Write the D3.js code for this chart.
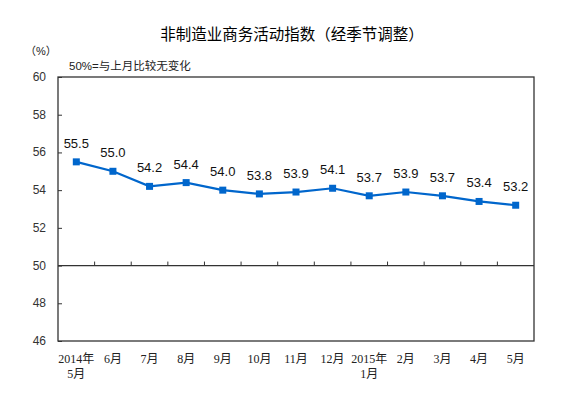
<!DOCTYPE html>
<html><head>
<meta charset="utf-8">
<script src="https://d3js.org/d3.v7.min.js"></script>
<style>
  body { margin: 0; background: #fff; }
  .val { font-family: Arial, "Liberation Sans", sans-serif; font-size: 13px; fill: #111; }
  .ylab { font-family: Arial, "Liberation Sans", sans-serif; font-size: 12px; fill: #333; }
  .xlab { font-family: "Liberation Serif", "Noto Sans CJK SC", serif; font-size: 12px; fill: #222; }
  .cjk { font-family: "Liberation Sans", "Noto Sans CJK SC", sans-serif; fill: #222; }
</style>
</head>
<body>
<svg id="chart" width="587" height="396"></svg>
<script>
// data
var months = ["2014年\n5月", "6月", "7月", "8月", "9月", "10月", "11月", "12月", "2015年\n1月", "2月", "3月", "4月", "5月"];
var values = [55.5, 55.0, 54.2, 54.4, 54.0, 53.8, 53.9, 54.1, 53.7, 53.9, 53.7, 53.4, 53.2];
var yTicks = [46, 48, 50, 52, 54, 56, 58, 60];

var svg = d3.select("#chart");
// plot box (window.top is reserved, so use other names)
var plotL = 58, plotR = 534, plotT = 77, plotB = 341;

var x = d3.scaleBand().domain(months).range([plotL, plotR]);
var y = d3.scaleLinear().domain([46, 60]).range([plotB, plotT]);

// title and notes
svg.append("text").attr("class", "cjk")
  .attr("x", 292).attr("y", 40).attr("text-anchor", "middle")
  .style("font-size", "15.5px").style("fill", "#000")
  .text("非制造业商务活动指数（经季节调整）");
svg.append("text").attr("class", "cjk")
  .attr("x", 25).attr("y", 55).style("font-size", "11px")
  .text("（%）");
svg.append("text").attr("class", "cjk")
  .attr("x", 69).attr("y", 70).style("font-size", "11.5px")
  .text("50%=与上月比较无变化");

// frame
svg.append("rect")
  .attr("x", plotL).attr("y", plotT)
  .attr("width", plotR - plotL).attr("height", plotB - plotT)
  .attr("fill", "none").attr("stroke", "#333").attr("stroke-width", 1.3);

// y axis, ticks inward
var yAxis = svg.append("g").attr("transform", "translate(" + plotL + ",0)")
  .call(d3.axisRight(y).tickValues(yTicks).tickSize(4).tickFormat(""));
yAxis.select(".domain").remove();
yAxis.selectAll("line").attr("stroke", "#333");

svg.selectAll(".ylab").data(yTicks).enter().append("text")
  .attr("class", "ylab")
  .attr("x", 46).attr("y", d => y(d) + 4)
  .attr("text-anchor", "end")
  .text(d => d);

// 50 baseline with category ticks pointing up
svg.append("line")
  .attr("x1", plotL).attr("x2", plotR)
  .attr("y1", y(50)).attr("y2", y(50))
  .attr("stroke", "#333").attr("stroke-width", 1.3);
svg.selectAll(".xtick").data(months.slice(1)).enter().append("line")
  .attr("class", "xtick")
  .attr("x1", d => x(d)).attr("x2", d => x(d))
  .attr("y1", y(50)).attr("y2", y(50) - 4)
  .attr("stroke", "#333");

// x labels
var xl = svg.selectAll(".xlab").data(months).enter().append("text")
  .attr("class", "xlab")
  .attr("text-anchor", "middle")
  .attr("x", d => x(d) + x.bandwidth() / 2)
  .attr("y", 363);
xl.each(function(d) {
  var parts = d.split("\n");
  var t = d3.select(this);
  parts.forEach(function(p, i) {
    t.append("tspan").attr("x", x(d) + x.bandwidth() / 2).attr("dy", i ? 15 : 0).text(p);
  });
});

// line and markers
var pts = months.map((m, i) => ({ m: m, v: values[i] }));
var line = d3.line().x(d => x(d.m) + x.bandwidth() / 2).y(d => y(d.v));

svg.append("path").datum(pts)
  .attr("d", line)
  .attr("fill", "none")
  .attr("stroke", "#0066cc")
  .attr("stroke-width", 2.2);

svg.selectAll(".mk").data(pts).enter().append("rect")
  .attr("class", "mk")
  .attr("x", d => x(d.m) + x.bandwidth() / 2 - 3.5)
  .attr("y", d => y(d.v) - 3.5)
  .attr("width", 7).attr("height", 7)
  .attr("fill", "#0066cc");

svg.selectAll(".val").data(pts).enter().append("text")
  .attr("class", "val")
  .attr("text-anchor", "middle")
  .attr("x", d => x(d.m) + x.bandwidth() / 2)
  .attr("y", d => y(d.v) - 14)
  .text(d => d.v.toFixed(1));
</script>
</body>
</html>
